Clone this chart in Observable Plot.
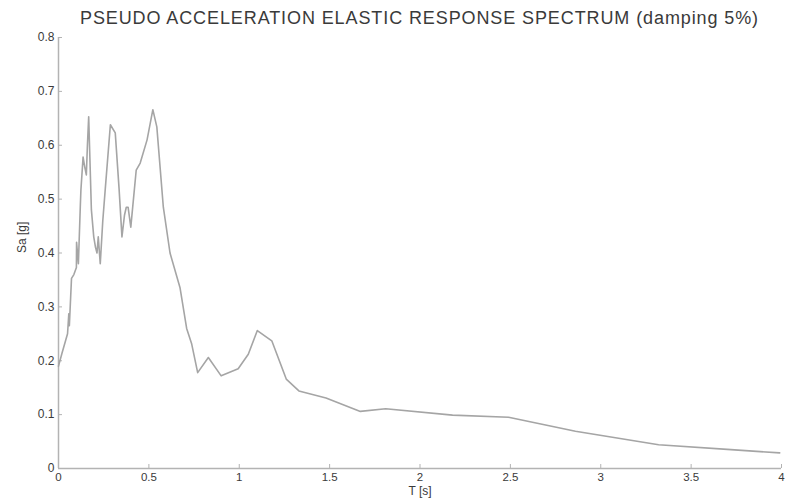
<!DOCTYPE html>
<html>
<head>
<meta charset="utf-8">
<script src="https://cdn.jsdelivr.net/npm/d3@7"></script>
<script src="https://cdn.jsdelivr.net/npm/@observablehq/plot@0.6"></script>
<style>
  body { margin: 0; background: #fff; font-family: "Liberation Sans", Arial, sans-serif; }
  #title { width: 785px; height: 30px; box-sizing: border-box; padding-left: 58px; padding-right: 4px;
           text-align: center; font-size: 18px; letter-spacing: 0.9px; line-height: 36px; color: #3a3a3a; white-space: nowrap; overflow: visible; }
</style>
</head>
<body>
<div id="title"></div>
<div id="chart"></div>
<script>
const titleText = "PSEUDO ACCELERATION ELASTIC RESPONSE SPECTRUM (damping 5%)";
const xLabel = "T [s]";
const yLabel = "Sa [g]";
const xTicks = [0, 0.5, 1, 1.5, 2, 2.5, 3, 3.5, 4];
const yTicks = [0, 0.1, 0.2, 0.3, 0.4, 0.5, 0.6, 0.7, 0.8];

const period = [0.00, 0.02, 0.039, 0.050, 0.057, 0.060, 0.072, 0.085, 0.099, 0.100, 0.110, 0.121, 0.124, 0.136, 0.145, 0.154, 0.160, 0.167,
  0.182, 0.195, 0.205, 0.213, 0.220, 0.231, 0.245, 0.259, 0.287, 0.314, 0.335, 0.351, 0.365, 0.375, 0.385, 0.400, 0.430, 0.452, 0.49, 0.522,
  0.544, 0.58, 0.617, 0.672, 0.709, 0.737, 0.770, 0.829, 0.900, 0.994, 1.05, 1.10, 1.18, 1.26, 1.33, 1.48, 1.67, 1.81, 2.18, 2.49, 2.86, 3.32, 3.72, 3.99];
const sa = [0.190, 0.215, 0.237, 0.250, 0.287, 0.265, 0.353, 0.360, 0.373, 0.420, 0.380, 0.490, 0.517, 0.578, 0.560, 0.545, 0.600, 0.653,
  0.480, 0.430, 0.410, 0.400, 0.430, 0.380, 0.460, 0.520, 0.638, 0.623, 0.520, 0.430, 0.470, 0.485, 0.485, 0.448, 0.554, 0.567, 0.610, 0.666,
  0.634, 0.485, 0.400, 0.336, 0.260, 0.231, 0.178, 0.206, 0.172, 0.185, 0.212, 0.256, 0.237, 0.166, 0.144, 0.131, 0.106, 0.111, 0.099, 0.095, 0.069, 0.044, 0.035, 0.029];

document.getElementById("title").textContent = titleText;

const data = period.map((t, i) => ({T: t, Sa: sa[i]}));

const W = 785, H = 474;
const mL = 58, mR = 4, mT = 7, mB = 36;
const fw = W - mL - mR, fh = H - mT - mB;

const plot = Plot.plot({
  width: W,
  height: H,
  marginLeft: mL,
  marginRight: mR,
  marginTop: mT,
  marginBottom: mB,
  style: {fontFamily: "Liberation Sans, Arial, sans-serif", fontSize: "12px", color: "#3a3a3a", background: "#fff", overflow: "visible"},
  x: {domain: [0, 4]},
  y: {domain: [0, 0.8]},
  marks: [
    Plot.ruleY([0], {stroke: "#b3b3b3", strokeWidth: 1.5}),
    Plot.ruleX([0], {stroke: "#b3b3b3", strokeWidth: 1.5}),
    Plot.tickX(xTicks, {x: d => d, stroke: "#b3b3b3", insetTop: fh - 4}),
    Plot.tickY(yTicks, {y: d => d, stroke: "#b3b3b3", insetRight: fw - 4}),
    Plot.axisX({ticks: xTicks, tickSize: 0, tickPadding: 4, tickFormat: d => String(d), label: null, fill: "#3a3a3a", fontSize: 11.5}),
    Plot.axisY({ticks: yTicks, tickSize: 0, tickPadding: 4, tickFormat: d => String(d), label: null, fill: "#3a3a3a", fontSize: 12}),
    Plot.line(data, {x: "T", y: "Sa", stroke: "#a5a5a5", strokeWidth: 1.6, curve: "linear"}),
    Plot.text([xLabel], {frameAnchor: "bottom", dy: 26, text: d => d, fill: "#3a3a3a", fontSize: 12}),
    Plot.text([yLabel], {frameAnchor: "left", dx: -36, rotate: -90, text: d => d, fill: "#3a3a3a", fontSize: 12})
  ]
});
document.getElementById("chart").appendChild(plot);
</script>
</body>
</html>
